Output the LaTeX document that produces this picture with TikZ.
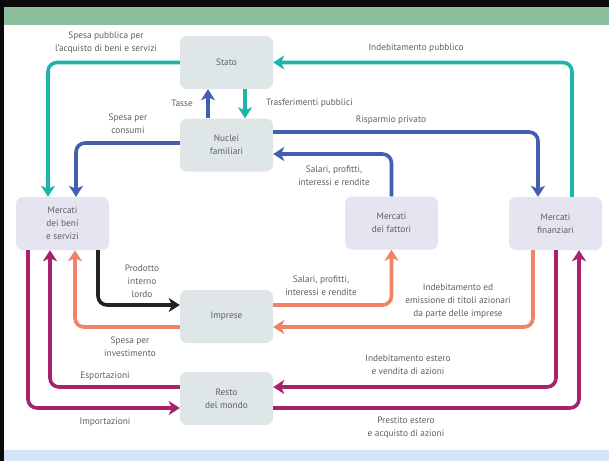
\documentclass[tikz,border=0pt]{standalone}
\usepackage{fontspec}
\setmainfont{PT Sans}
\usetikzlibrary{arrows.meta}

\definecolor{frameblack}{RGB}{10,10,10}
\definecolor{bandgreen}{RGB}{141,190,156}
\definecolor{bandblue}{RGB}{214,228,250}
\definecolor{boxgrey}{RGB}{222,230,232}
\definecolor{boxlilac}{RGB}{229,228,241}
\definecolor{txtgrey}{RGB}{95,95,95}
\definecolor{flowteal}{RGB}{30,182,170}
\definecolor{flowblue}{RGB}{66,96,176}
\definecolor{flowblack}{RGB}{35,35,35}
\definecolor{flowsalmon}{RGB}{240,130,104}
\definecolor{flowmagenta}{RGB}{166,36,110}

\newcommand*{\picw}{609}
\newcommand*{\pich}{461}

\begin{document}
\begin{tikzpicture}
[
	x=1pt,
	y=-1pt,
	font=\fontsize{9.3}{13}\selectfont,
	sector/.style={rectangle,rounded corners=7pt,fill=boxgrey,text=txtgrey,
		minimum width=93pt,minimum height=53pt,align=center,inner sep=2pt},
	market/.style={sector,fill=boxlilac},
	flowlabel/.style={text=txtgrey,align=center,inner sep=1pt},
	flow/.style={line width=3.6pt,rounded corners=9pt,
		-{Stealth[length=11pt,width=14pt,inset=3pt]}},
]

	% frame
	\useasboundingbox (0,0) rectangle (\picw,\pich);
	\fill[white] (0,0) rectangle (\picw,\pich);
	\fill[bandgreen] (4,7) rectangle (\picw,25);
	\fill[bandblue] (4,450) rectangle (\picw,\pich);
	\fill[frameblack] (0,0) rectangle (\picw,7);
	\fill[frameblack] (0,0) rectangle (4,\pich);

	% sectors
	\node[sector] (stato) at (226.5,62.5) {Stato};
	\node[sector] (nuclei) at (226.5,145) {Nuclei\\familiari};
	\node[sector] (imprese) at (226.5,316.5) {Imprese};
	\node[sector] (resto) at (226.5,398.5) {Resto\\del mondo};
	\node[market] (mbeni) at (62.5,223.5) {Mercati\\dei beni\\e servizi};
	\node[market] (mfattori) at (391.5,223) {Mercati\\dei fattori};
	\node[market] (mfin) at (555.5,223.5) {Mercati\\finanziari};

	% public flows
	\draw[flow,flowteal] (stato.west) -| ([xshift=-14.5pt]mbeni.north);
	\draw[flow,flowteal] ([xshift=16.5pt]mfin.north) |- (stato.east);
	\draw[flow,flowteal] ([xshift=18.5pt]stato.south) -- ([xshift=18.5pt]nuclei.north);
	\draw[flow,flowblue] ([xshift=-18.5pt]nuclei.north) -- ([xshift=-18.5pt]stato.south);

	% households
	\draw[flow,flowblue] ([yshift=2pt]nuclei.west) -| ([xshift=13.5pt]mbeni.north);
	\draw[flow,flowblue] ([yshift=13pt]nuclei.east) -| ([xshift=-17.5pt]mfin.north);
	\draw[flow,flowblue] (mfattori.north) |- ([yshift=-9pt]nuclei.east);

	% firms
	\draw[flow,flowblack] ([xshift=35.5pt]mbeni.south) |- ([yshift=11.5pt]imprese.west);
	\draw[flow,flowsalmon] ([yshift=-10.5pt]imprese.west) -| ([xshift=12.5pt]mbeni.south);
	\draw[flow,flowsalmon] ([yshift=11.5pt]imprese.east) -| (mfattori.south);
	\draw[flow,flowsalmon] ([xshift=-22.5pt]mfin.south) |- ([yshift=-10.5pt]imprese.east);

	% rest of the world
	\draw[flow,flowmagenta] ([yshift=11.5pt]resto.west) -| ([xshift=-12.5pt]mbeni.south);
	\draw[flow,flowmagenta] ([xshift=-34.5pt]mbeni.south) |- ([yshift=-9.5pt]resto.west);
	\draw[flow,flowmagenta] ([xshift=0.5pt]mfin.south) |- ([yshift=11.5pt]resto.east);
	\draw[flow,flowmagenta] ([yshift=-9.5pt]resto.east) -| ([xshift=23.5pt]mfin.south);

	% labels
	\node[flowlabel] (lspesapub) at (106,43) {Spesa pubblica per\\l'acquisto di beni e servizi};
	\node[flowlabel] (lindebpub) at (416,48) {Indebitamento pubblico};
	\node[flowlabel,anchor=east] (ltasse) at (194,103) {Tasse};
	\node[flowlabel,anchor=west] (ltrasf) at (265,103) {Trasferimenti pubblici};
	\node[flowlabel] (lconsumi) at (128,124) {Spesa per\\consumi};
	\node[flowlabel] (lrisparmio) at (391,120) {Risparmio privato};
	\node[flowlabel] (lsalarisu) at (334,176) {Salari, profitti,\\interessi e rendite};
	\node[flowlabel] (lpil) at (142,281) {Prodotto\\interno\\lordo};
	\node[flowlabel] (lsalarigiu) at (321,286) {Salari, profitti,\\interessi e rendite};
	\node[flowlabel] (lindebimp) at (458,301) {Indebitamento ed\\emissione di titoli azionari\\da parte delle imprese};
	\node[flowlabel] (linvest) at (130,347) {Spesa per\\investimento};
	\node[flowlabel] (lindebest) at (408,365) {Indebitamento estero\\e vendita di azioni};
	\node[flowlabel] (lesport) at (105,376) {Esportazioni};
	\node[flowlabel] (limport) at (105,422) {Importazioni};
	\node[flowlabel] (lprestito) at (406,428) {Prestito estero\\e acquisto di azioni};

\end{tikzpicture}
\end{document}
